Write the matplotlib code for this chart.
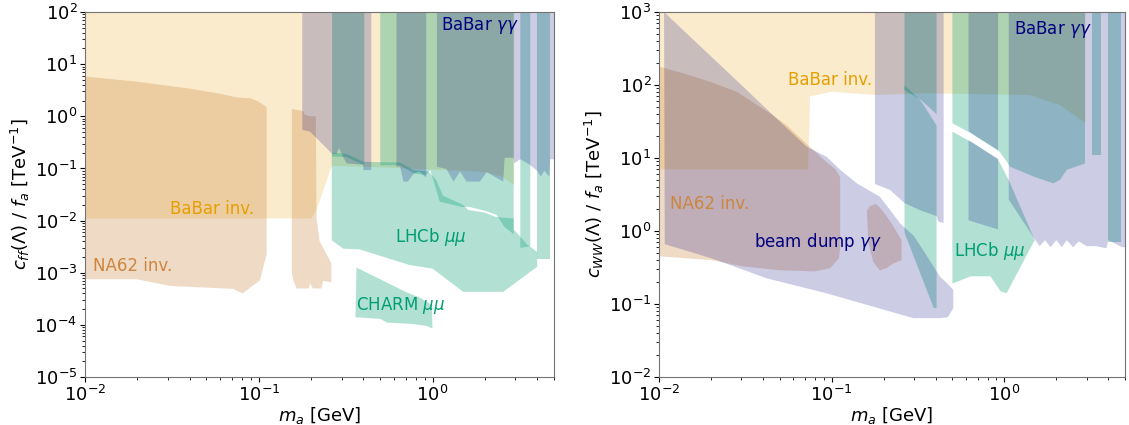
import matplotlib
matplotlib.use("Agg")
import matplotlib.pyplot as plt

# colours
C_INV = "#E69F00"    # BaBar invisible
C_NA62 = "#CD853F"   # NA62 invisible
C_MU = "#009E73"     # mu mu searches
C_GG = "#000080"     # gamma gamma searches

# ---------------- left panel: c_ff ----------------
babar_inv_L_x = [0.01, 0.2, 0.215, 0.263, 0.5, 1.0, 1.5, 2.0, 2.5, 2.95, 2.95, 0.01]
babar_inv_L_y = [0.011, 0.011, 0.016, 0.112, 0.105, 0.095, 0.09, 0.085, 0.07, 0.048, 100, 100]

na62_L1_x = [0.01, 0.02, 0.04, 0.06, 0.075, 0.09, 0.1, 0.111, 0.111, 0.1017, 0.0807, 0.0713, 0.0308, 0.0198, 0.01]
na62_L1_y = [5.8, 4.6, 3.4, 2.7, 2.3, 2.2, 1.9, 1.5, 2.3e-3, 7.2e-4, 4.0e-4, 4.9e-4, 5.6e-4, 7.5e-4, 7.5e-4]
na62_L2_x = [0.155, 0.17, 0.18, 0.184, 0.197, 0.213, 0.215, 0.224, 0.245, 0.262, 0.262, 0.235, 0.229,
             0.205, 0.197, 0.194, 0.165, 0.158, 0.155]
na62_L2_y = [1.38, 1.3, 1.28, 1.06, 1.01, 1.0, 0.011, 4.0e-3, 2.3e-3, 1.5e-3, 6.5e-4, 7.0e-4, 5.0e-4,
             5.0e-4, 6.3e-4, 5.0e-4, 5.0e-4, 7.2e-4, 1.0e-3]

lhcb_L_main_x = [0.263, 0.32, 0.40, 0.65, 0.78, 0.95, 1.05, 1.15, 1.5, 1.6, 2.0, 2.3, 2.5, 2.93, 2.93, 3.5,
                 4.0, 4.0, 2.55, 1.5, 1.0, 0.74, 0.38, 0.306, 0.263]
lhcb_L_main_y = [0.2, 0.19, 0.134, 0.13, 0.093, 0.087, 0.06, 0.03, 0.02, 0.016, 0.0142, 0.0118, 0.0115, 0.011,
                 0.0068, 3.5e-3, 2.5e-3, 1.3e-3, 4.3e-4, 4.3e-4, 1.2e-3, 1.4e-3, 2.8e-3, 2.9e-3, 4.2e-3]
lhcb_L_c1_x = [0.264, 0.405, 0.405, 0.32, 0.264]
lhcb_L_c1_y = [100, 100, 0.115, 0.165, 0.17]
lhcb_L_c2_x = [0.5, 2.93, 2.93, 2.6, 2.34, 2.0, 1.6, 1.5, 1.1, 0.97, 0.92, 0.78, 0.65, 0.5]
lhcb_L_c2_y = [100, 100, 0.0055, 0.0075, 0.0128, 0.0155, 0.0185, 0.018, 0.023, 0.093, 0.075, 0.08, 0.115, 0.115]
lhcb_L_c3_x = [3.2, 3.65, 3.65, 3.2]
lhcb_L_c3_y = [100, 100, 3.2e-3, 3.0e-3]
lhcb_L_c4_x = [4.0, 4.75, 4.75, 4.0]
lhcb_L_c4_y = [100, 100, 1.8e-3, 1.8e-3]

charm_x = [0.365, 0.5, 0.56, 0.7, 0.85, 0.99, 1.0, 0.93, 0.75, 0.55, 0.5, 0.36]
charm_y = [1.25e-3, 7.5e-4, 6.2e-4, 4.3e-4, 3.3e-4, 2.4e-4, 8.5e-5, 9.5e-5, 1.05e-4, 1.1e-4, 1.3e-4, 1.4e-4]

gg_L_c1_x = [0.178, 0.444, 0.444, 0.40, 0.40, 0.32, 0.30, 0.29, 0.28, 0.263, 0.197, 0.178]
gg_L_c1_y = [100, 100, 0.093, 0.093, 0.118, 0.125, 0.19, 0.245, 0.19, 0.195, 0.51, 0.55]
gg_L_c2_x = [0.62, 0.92, 0.92, 0.91, 0.84, 0.78, 0.72, 0.68, 0.65, 0.62]
gg_L_c2_y = [100, 100, 0.069, 0.069, 0.087, 0.08, 0.056, 0.056, 0.108, 0.108]
gg_L_c3_x = [1.06, 5.0, 5.0, 4.75, 4.7, 4.4, 4.2, 4.0, 3.6, 3.2, 2.95, 2.93, 2.6, 2.55, 2.05, 1.87,
             1.57, 1.44, 1.32, 1.2, 1.06]
gg_L_c3_y = [100, 100, 0.15, 0.15, 0.07, 0.09, 0.07, 0.09, 0.12, 0.15, 0.125, 0.16, 0.16, 0.056, 0.085,
             0.056, 0.056, 0.087, 0.056, 0.098, 0.108]

# ---------------- right panel: c_WW ----------------
babar_inv_R_x = [0.01, 0.073, 0.075, 0.1, 0.18, 0.35, 1.4, 2.1, 2.95, 2.95, 0.01]
babar_inv_R_y = [7.0, 7.0, 70, 81, 73, 77, 73, 53, 30, 1000, 1000]

na62_R1_x = [0.0101, 0.0138, 0.0197, 0.0282, 0.0385, 0.044, 0.055, 0.073, 0.09, 0.105, 0.112, 0.112,
             0.11, 0.098, 0.08, 0.05, 0.03, 0.02, 0.0101]
na62_R1_y = [178, 145, 111, 81, 50, 41, 28, 15, 9.5, 7, 5.5, 0.6, 0.42, 0.31, 0.28, 0.29, 0.33, 0.40, 0.45]
na62_R2_x = [0.16, 0.167, 0.18, 0.19, 0.208, 0.228, 0.254, 0.254, 0.228, 0.215, 0.208, 0.19, 0.174, 0.163]
na62_R2_y = [1.9, 2.2, 2.35, 2.1, 1.6, 1.15, 0.75, 0.40, 0.36, 0.33, 0.31, 0.29, 0.38, 0.7]

lhcb_R_u1_x = [0.264, 0.405, 0.405, 0.33, 0.264]
lhcb_R_u1_y = [1000, 1000, 40, 62, 85]
lhcb_R_l1_x = [0.264, 0.33, 0.405, 0.405, 0.39, 0.264]
lhcb_R_l1_y = [100, 60, 28, 0.088, 0.088, 0.95]
lhcb_R_u2_x = [0.5, 2.93, 2.93, 2.3, 2.1, 1.92, 1.5, 1.08, 0.94, 0.66, 0.5]
lhcb_R_u2_y = [1000, 1000, 8.4, 6.9, 5.0, 4.5, 5.5, 7.6, 12.2, 21, 30]
lhcb_R_l2_x = [0.5, 0.66, 0.92, 1.06, 1.5, 1.47, 1.03, 0.95, 0.83, 0.64, 0.51, 0.5]
lhcb_R_l2_y = [23, 16, 9.5, 5.0, 0.75, 0.69, 0.14, 0.15, 0.24, 0.24, 0.194, 0.194]
lhcb_R_u3_x = [3.2, 3.65, 3.65, 3.2]
lhcb_R_u3_y = [1000, 1000, 11, 11]
lhcb_R_u4_x = [4.0, 4.75, 4.75, 4.0]
lhcb_R_u4_y = [1000, 1000, 0.7, 0.7]

gg_R_c1_x = [0.178, 0.445, 0.445, 0.414, 0.405, 0.33, 0.265, 0.218, 0.184, 0.178]
gg_R_c1_y = [1000, 1000, 1.29, 1.35, 1.6, 1.9, 2.4, 3.65, 4.27, 4.4]
gg_R_c2u_x = [0.62, 0.92, 0.92, 0.66, 0.62]
gg_R_c2u_y = [1000, 1000, 12.8, 21, 23.5]
gg_R_c2l_x = [0.62, 0.66, 0.92, 0.92, 0.62]
gg_R_c2l_y = [17.5, 16, 9.8, 1.05, 1.4]
gg_R_c3_x = [1.06, 5.0, 5.0, 4.8, 4.0, 3.9, 3.4, 3.0, 2.7, 2.5, 2.3, 2.15, 2.0, 1.85, 1.72, 1.6, 1.5, 1.06]
gg_R_c3_y = [1000, 1000, 0.6, 0.6, 0.75, 0.58, 0.62, 0.62, 0.72, 0.6, 0.75, 0.6, 0.75, 0.6, 0.75, 0.62, 0.77, 2.7]

beamdump_x = [0.0107, 0.0147, 0.0205, 0.03, 0.0436, 0.0716, 0.0935, 0.112, 0.14, 0.19, 0.218, 0.249,
              0.3, 0.347, 0.424, 0.48, 0.506, 0.506, 0.47, 0.424, 0.297, 0.174, 0.0935, 0.042, 0.0216,
              0.016, 0.0108]
beamdump_y = [1000, 490, 234, 100, 43, 14.3, 10.4, 6.9, 4.5, 2.95, 1.94, 1.27, 0.85, 0.5, 0.237, 0.18,
              0.156, 0.087, 0.066, 0.064, 0.064, 0.092, 0.14, 0.225, 0.40, 0.5, 0.66]


def patch(ax, x, y, color, alpha):
    ax.fill(x, y, color=color, alpha=alpha, lw=0)


fig = plt.figure(figsize=(11.29, 4.25), dpi=100)
axL = fig.add_axes([0.0753, 0.1129, 0.4154, 0.8588])
axR = fig.add_axes([0.5837, 0.1129, 0.4128, 0.8588])

# left
patch(axL, babar_inv_L_x, babar_inv_L_y, C_INV, 0.2)
patch(axL, na62_L1_x, na62_L1_y, C_NA62, 0.3)
patch(axL, na62_L2_x, na62_L2_y, C_NA62, 0.3)
for xs, ys in [(lhcb_L_main_x, lhcb_L_main_y), (lhcb_L_c1_x, lhcb_L_c1_y), (lhcb_L_c2_x, lhcb_L_c2_y),
               (lhcb_L_c3_x, lhcb_L_c3_y), (lhcb_L_c4_x, lhcb_L_c4_y), (charm_x, charm_y)]:
    patch(axL, xs, ys, C_MU, 0.3)
for xs, ys in [(gg_L_c1_x, gg_L_c1_y), (gg_L_c2_x, gg_L_c2_y), (gg_L_c3_x, gg_L_c3_y)]:
    patch(axL, xs, ys, C_GG, 0.2)

# right
patch(axR, babar_inv_R_x, babar_inv_R_y, C_INV, 0.2)
patch(axR, na62_R1_x, na62_R1_y, C_NA62, 0.3)
patch(axR, na62_R2_x, na62_R2_y, C_NA62, 0.3)
for xs, ys in [(lhcb_R_u1_x, lhcb_R_u1_y), (lhcb_R_l1_x, lhcb_R_l1_y), (lhcb_R_u2_x, lhcb_R_u2_y),
               (lhcb_R_l2_x, lhcb_R_l2_y), (lhcb_R_u3_x, lhcb_R_u3_y), (lhcb_R_u4_x, lhcb_R_u4_y)]:
    patch(axR, xs, ys, C_MU, 0.3)
for xs, ys in [(gg_R_c1_x, gg_R_c1_y), (gg_R_c2u_x, gg_R_c2u_y), (gg_R_c2l_x, gg_R_c2l_y),
               (gg_R_c3_x, gg_R_c3_y), (beamdump_x, beamdump_y)]:
    patch(axR, xs, ys, C_GG, 0.2)

# labels
tk = dict(transform=axL.transAxes, ha="center", va="center", fontsize=12)
axL.text(0.841, 0.962, r"BaBar $\gamma\gamma$", color=C_GG, **tk)
axL.text(0.27, 0.46, "BaBar inv.", color=C_INV, **tk)
axL.text(0.101, 0.304, "NA62 inv.", color=C_NA62, **tk)
axL.text(0.737, 0.384, r"LHCb $\mu\mu$", color=C_MU, **tk)
axL.text(0.672, 0.195, r"CHARM $\mu\mu$", color=C_MU, **tk)

tk["transform"] = axR.transAxes
axR.text(0.845, 0.951, r"BaBar $\gamma\gamma$", color=C_GG, **tk)
axR.text(0.367, 0.814, "BaBar inv.", color=C_INV, **tk)
axR.text(0.109, 0.474, "NA62 inv.", color=C_NA62, **tk)
axR.text(0.342, 0.371, r"beam dump $\gamma\gamma$", color=C_GG, **tk)
axR.text(0.709, 0.345, r"LHCb $\mu\mu$", color=C_MU, **tk)

for ax, ylim, ylab in [(axL, (1e-5, 1e2), r"$c_{ff}(\Lambda)\ /\ f_a$ [TeV$^{-1}$]"),
                       (axR, (1e-2, 1e3), r"$c_{WW}(\Lambda)\ /\ f_a$ [TeV$^{-1}$]")]:
    ax.set_xscale("log")
    ax.set_yscale("log")
    ax.set_xlim(0.01, 5)
    ax.set_ylim(*ylim)
    ax.set_xlabel(r"$m_a$ [GeV]", fontsize=13, labelpad=0)
    ax.set_ylabel(ylab, fontsize=13, labelpad=2)
    ax.tick_params(labelsize=13, pad=2)
    for s in ax.spines.values():
        s.set_color("0.45")

fig.savefig("out.png", dpi=100)
